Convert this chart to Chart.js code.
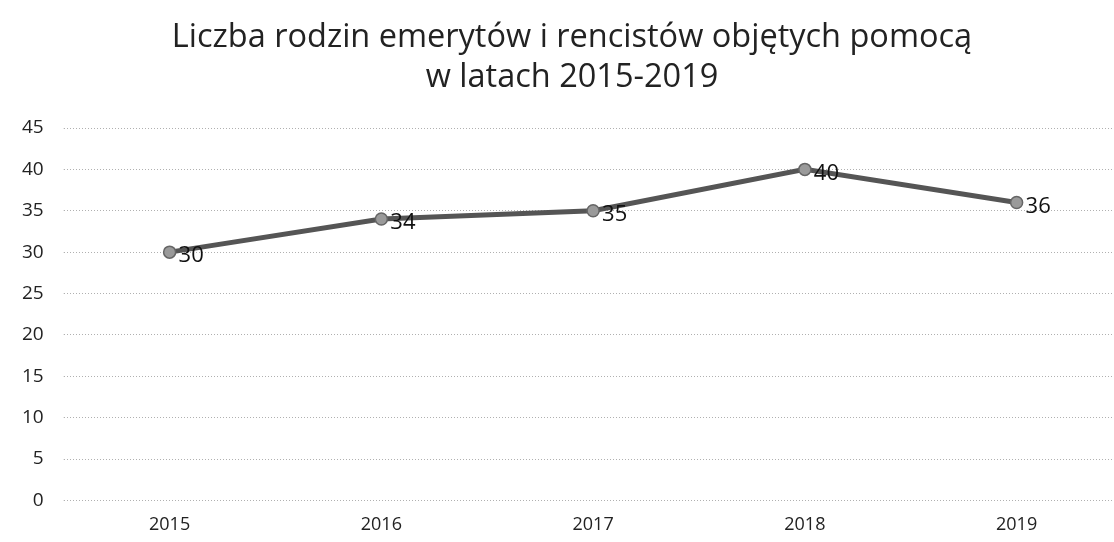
<!DOCTYPE html>
<html>
<head>
<meta charset="utf-8">
<script src="https://cdn.jsdelivr.net/npm/chart.js@4"></script>
<style>
  body { margin: 0; background: #fff; overflow: hidden; }
  .chart-wrapper { width: 1130px; height: 542px; }
</style>
</head>
<body>
<div class="chart-wrapper"><canvas id="chart"></canvas></div>
<script>
// Sample data
const years = ['2015', '2016', '2017', '2018', '2019'];
const families = [30, 34, 35, 40, 36];
const yTicks = [0, 5, 10, 15, 20, 25, 30, 35, 40, 45];
const titleLines = ['Liczba rodzin emerytów i rencistów objętych pomocą', 'w latach 2015-2019'];

const fontFamily = '"Open Sans", "Noto Sans", sans-serif';

// title drawn by hand so it can sit a bit right of centre, like the original
const titleText = {
  id: 'titleText',
  afterDraw(chart) {
    const ctx = chart.ctx;
    ctx.save();
    ctx.font = '32.5px ' + fontFamily;
    ctx.fillStyle = '#222';
    ctx.textAlign = 'center';
    ctx.textBaseline = 'middle';
    ctx.fillText(titleLines[0], 572, 38);
    ctx.fillText(titleLines[1], 572, 78);
    ctx.restore();
  }
};

// value labels right of each point
const valueLabels = {
  id: 'valueLabels',
  afterDatasetsDraw(chart) {
    const ctx = chart.ctx;
    const meta = chart.getDatasetMeta(0);
    ctx.save();
    ctx.font = '22px ' + fontFamily;
    ctx.fillStyle = '#111';
    ctx.textAlign = 'left';
    ctx.textBaseline = 'middle';
    meta.data.forEach((pt, i) => {
      ctx.fillText(String(families[i]), pt.x + 9, pt.y + 4);
    });
    ctx.restore();
  }
};

new Chart(document.getElementById('chart').getContext('2d'), {
  type: 'line',
  data: {
    labels: years,
    datasets: [{
      label: 'Liczba rodzin',
      data: families,
      borderColor: '#555',
      borderWidth: 5,
      pointRadius: 6,
      pointBackgroundColor: '#9a9a9a',
      pointBorderColor: '#666',
      pointBorderWidth: 1.5,
      tension: 0,
      fill: false
    }]
  },
  options: {
    responsive: true,
    maintainAspectRatio: false,
    animation: false,
    layout: { padding: { left: 2, right: 0, top: 128, bottom: 0 } },
    plugins: {
      legend: { display: false },
      tooltip: { enabled: false },
      title: { display: false }
    },
    scales: {
      x: {
        offset: true,
        grid: { display: false },
        border: { display: false },
        ticks: { color: '#222', font: { family: fontFamily, size: 18 }, padding: 6 }
      },
      y: {
        min: 0,
        max: 45,
        afterBuildTicks: axis => { axis.ticks = yTicks.map(v => ({ value: v })); },
        grid: { color: '#b0b0b0', lineWidth: 1, tickLength: 0 },
        border: { display: false, dash: [1, 2] },
        ticks: { color: '#222', font: { family: fontFamily, size: 19 }, padding: 20 }
      }
    }
  },
  plugins: [valueLabels, titleText]
});
</script>
</body>
</html>
